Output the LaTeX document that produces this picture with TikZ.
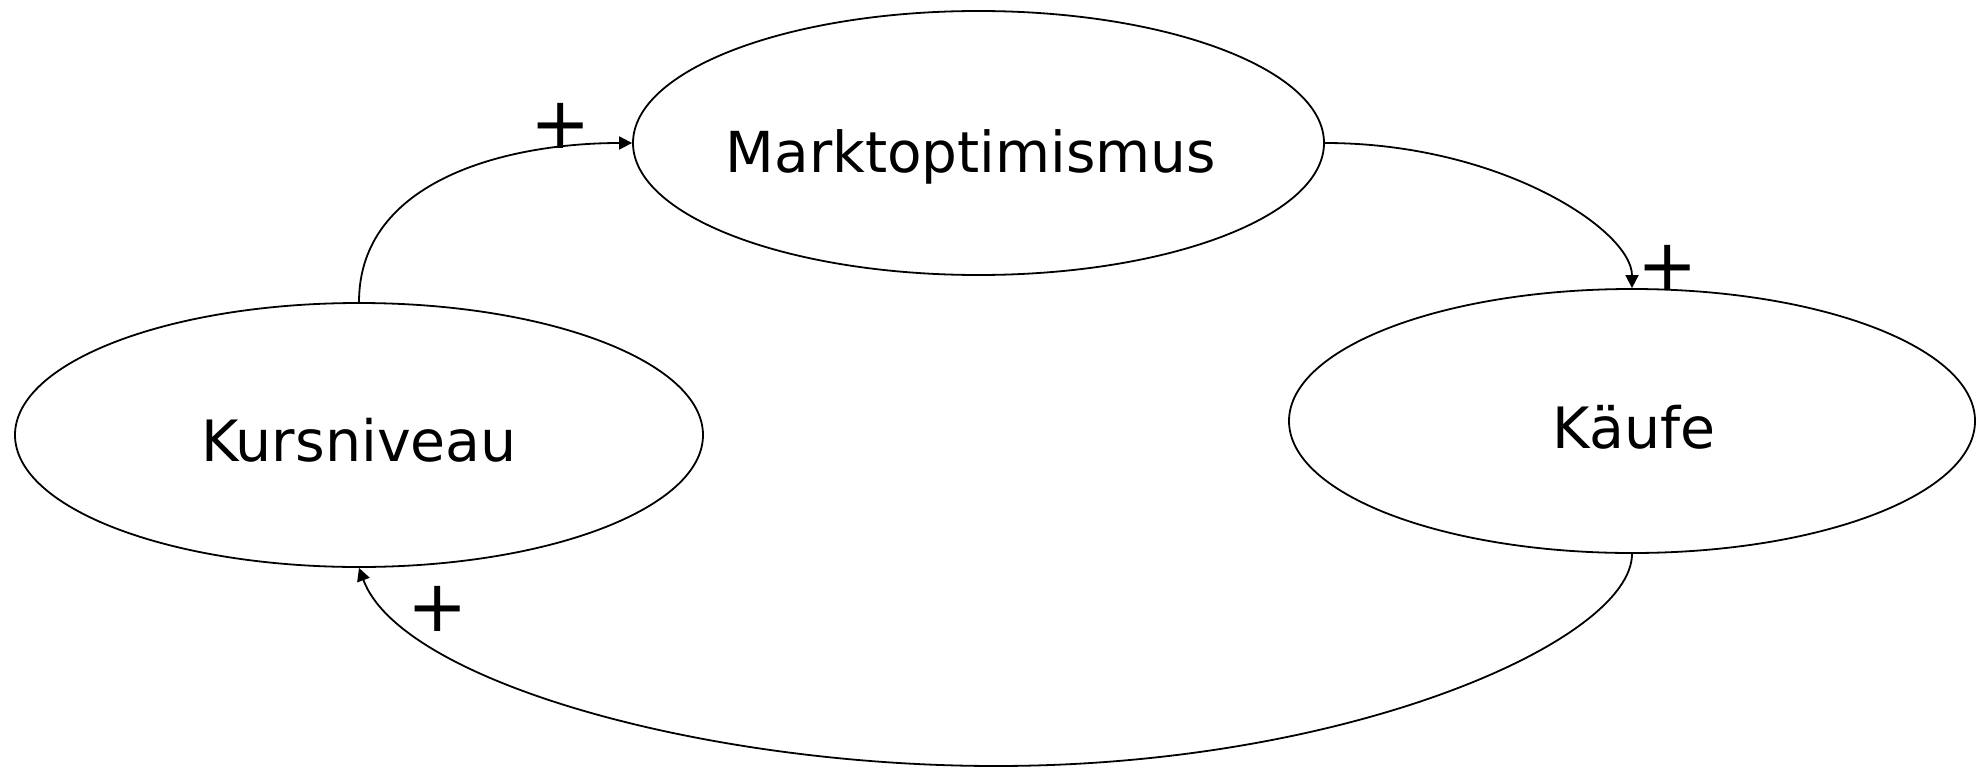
\documentclass[tikz,border=0pt]{standalone}
\usepackage{fontspec}
\setmainfont{DejaVu Sans}
\usetikzlibrary{shapes.geometric,arrows.meta}
\tikzset{
  ell/.style={draw, ellipse, line width=1.8pt, inner sep=0pt, minimum width=688pt, minimum height=264pt},
  lbl/.style={anchor=base, inner sep=0pt},
  conn/.style={line width=1.8pt, -{Triangle[length=13pt,width=13pt]}},
  sign/.style={inner sep=0pt, font=\fontsize{72}{80}\selectfont}
}
\begin{document}
\begin{tikzpicture}[x=1pt,y=-1pt]
\useasboundingbox (0,0) rectangle (1977,768);
\node[ell, minimum width=691pt] (markt) at (978.5,143) {};
\node[ell] (kurs) at (359,435) {};
\node[ell, minimum width=686pt] (kaufe) at (1632,421) {};
\node[lbl, font=\fontsize{56.5}{60}\selectfont] (tm) at (971,172) {Marktoptimismus};
\node[lbl, font=\fontsize{57}{60}\selectfont] (tk) at (359,461) {Kursniveau};
\node[lbl, font=\fontsize{57}{60}\selectfont] (tf) at (1634,448) {Käufe};
\coordinate (bot) at (996,766);
\draw[conn] (kurs.north) .. controls (359,179) and (509,143) .. (markt.west);
\draw[conn] (markt.east) .. controls (1500,143) and (1632,230) .. (kaufe.north);
\draw[conn] (kaufe.south) .. controls (1632,640) and (1350,766) .. (bot)
  .. controls (700,766) and (400,680) .. (kurs.south);
\node[sign] (p1) at (561,126) {+};
\node[sign] (p2) at (1668,268) {+};
\node[sign] (p3) at (438,609) {+};
\end{tikzpicture}
\end{document}
